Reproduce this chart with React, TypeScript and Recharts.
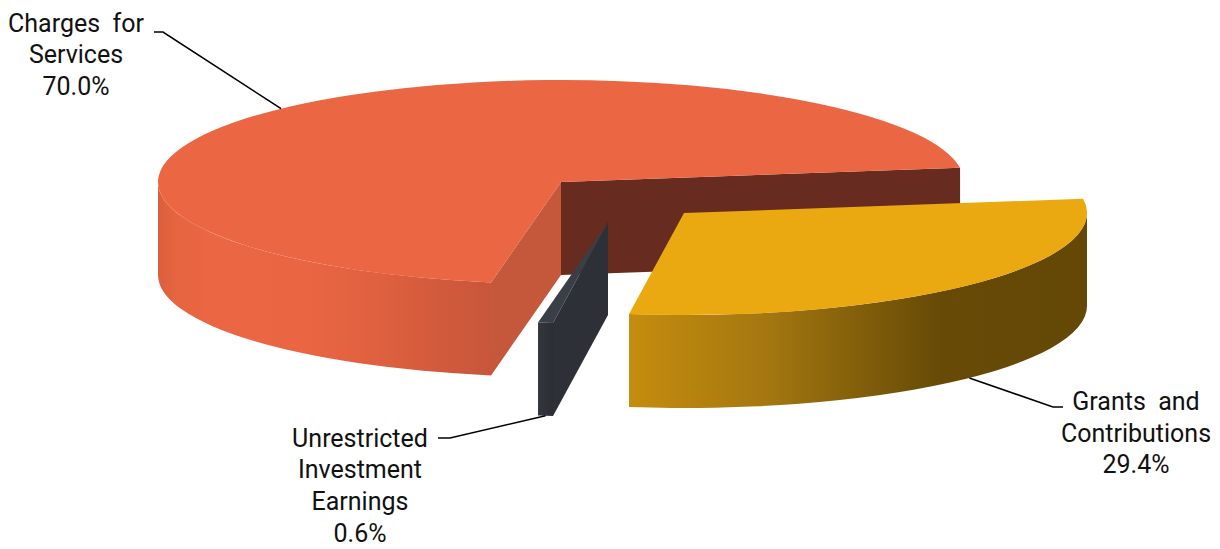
import React from 'react';
import { PieChart, Pie } from 'recharts';

// ---------- data ----------
const CATEGORIES = ['Charges for Services', 'Unrestricted Investment Earnings', 'Grants and Contributions'];
const VALUES = [70.0, 0.6, 29.4];
const LABEL_LINES = [
  ['Charges  for', 'Services'],
  ['Unrestricted', 'Investment', 'Earnings'],
  ['Grants  and', 'Contributions'],
];

const data = CATEGORIES.map((name, i) => ({ name, value: VALUES[i] }));

// ---------- style ----------
const TILT = 0.253; // vertical squash of the disc
const DEPTH = 93; // thickness of the disc in px
const TOP_COLORS = ['#EB6643', '#3A3E46', '#EBA911'];
const START_FACE = ['#672C1F', '#2E3137', '#8A6508'];
const END_FACE = ['#C5573A', '#2D3036', '#C58D0E'];
const WALL_STOPS: [number, string][][] = [
  [[0, '#D95F3E'], [0.05, '#E6643F'], [0.15, '#EB6643'], [0.45, '#EA6542'], [0.65, '#DF6140'], [0.85, '#D25A3C'], [1, '#C9563A']],
  [[0, '#33373D'], [1, '#2B2E33']],
  [[0, '#C58D0E'], [0.3, '#A47710'], [0.55, '#7A5909'], [0.68, '#674A06'], [1, '#644805']],
];
const EXPLODE = [[0, 0], [47, 40], [123, 31]];
const LABEL_LAYOUT = [
  { end: [154, 32], elbow: [163, 32], textX: 76, baseline: 31.7 },
  { end: [438, 438], elbow: [450, 438], textX: 360, baseline: 446.7 },
  { end: [1063, 407], elbow: [1053, 407], textX: 1136, baseline: 410 },
];
const FONT = 'Roboto, "Noto Sans", sans-serif';

const rad = (d: number) => (d * Math.PI) / 180;

function renderSlice(props: any) {
  const { cx, cy, outerRadius, startAngle, endAngle, index, percent } = props;
  const [ex, ey] = EXPLODE[index];
  const ox = cx + ex;
  const oy = cy + ey;
  const r = outerRadius;
  const ry = r * TILT;
  const a = Math.min(startAngle, endAngle);
  const b = Math.max(startAngle, endAngle);
  const p = (deg: number, dz = 0): [number, number] => [
    ox + r * Math.cos(rad(deg)),
    oy - ry * Math.sin(rad(deg)) + dz,
  ];
  const f = (q: [number, number]) => `${q[0].toFixed(2)},${q[1].toFixed(2)}`;

  // top face
  const large = b - a > 180 ? 1 : 0;
  const top = `M${ox},${oy} L${f(p(a))} A${r},${ry} 0 ${large} 0 ${f(p(b))} Z`;

  // outer wall (front half only)
  const walls: string[] = [];
  for (let k = -1; k <= 2; k++) {
    const lo = Math.max(a, 180 + 360 * k);
    const hi = Math.min(b, 360 + 360 * k);
    if (hi > lo) {
      const lg = hi - lo > 180 ? 1 : 0;
      walls.push(
        `M${f(p(lo))} A${r},${ry} 0 ${lg} 0 ${f(p(hi))} L${f(p(hi, DEPTH))} A${r},${ry} 0 ${lg} 1 ${f(p(lo, DEPTH))} Z`
      );
    }
  }

  const radial = (deg: number) =>
    `M${ox},${oy} L${f(p(deg))} L${f(p(deg, DEPTH))} L${ox},${oy + DEPTH} Z`;
  const showStart = Math.cos(rad(a)) > 0;
  const showEnd = Math.cos(rad(b)) < 0;

  // leader line from the rim at mid angle
  const mid = (a + b) / 2;
  const back = Math.sin(rad(mid)) > 0;
  const rim = p(mid, back ? 0 : DEPTH);
  const lay = LABEL_LAYOUT[index];
  const lines = [...LABEL_LINES[index], `${(percent * 100).toFixed(1)}%`];
  const gid = `wallGrad${index}`;

  return (
    <g key={`slice-${index}`}>
      <defs>
        <linearGradient id={gid} x1="0" y1="0" x2="1" y2="0">
          {WALL_STOPS[index].map(([o, c], i) => (
            <stop key={i} offset={o} stopColor={c} />
          ))}
        </linearGradient>
      </defs>
      {showStart && <path d={radial(a)} fill={START_FACE[index]} />}
      {showEnd && <path d={radial(b)} fill={END_FACE[index]} />}
      {walls.map((d, i) => (
        <path key={i} d={d} fill={`url(#${gid})`} />
      ))}
      <path d={top} fill={TOP_COLORS[index]} />
      <polyline
        points={`${f(rim)} ${lay.elbow[0]},${lay.elbow[1]} ${lay.end[0]},${lay.end[1]}`}
        fill="none"
        stroke="#000"
        strokeWidth={1.6}
      />
      <text
        x={lay.textX}
        y={lay.baseline}
        textAnchor="middle"
        fontFamily={FONT}
        fontSize={25}
        fill="#111"
        style={{ whiteSpace: 'pre' }}
      >
        {lines.map((t, i) => (
          <tspan key={i} x={lay.textX} dy={i === 0 ? 0 : 31.7}>
            {t}
          </tspan>
        ))}
      </text>
    </g>
  );
}

export default function App() {
  return (
    <div style={{ position: 'absolute', left: 0, top: 0, width: 1220, height: 549, background: '#fff' }}>
      <PieChart width={1220} height={549} margin={{ top: 0, right: 0, bottom: 0, left: 0 }}>
        <Pie
          data={data}
          dataKey="value"
          nameKey="name"
          cx={561}
          cy={182}
          outerRadius={403}
          startAngle={8}
          endAngle={368}
          fill="none"
          stroke="none"
          isAnimationActive={false}
          labelLine={false}
          label={renderSlice}
        />
      </PieChart>
    </div>
  );
}
